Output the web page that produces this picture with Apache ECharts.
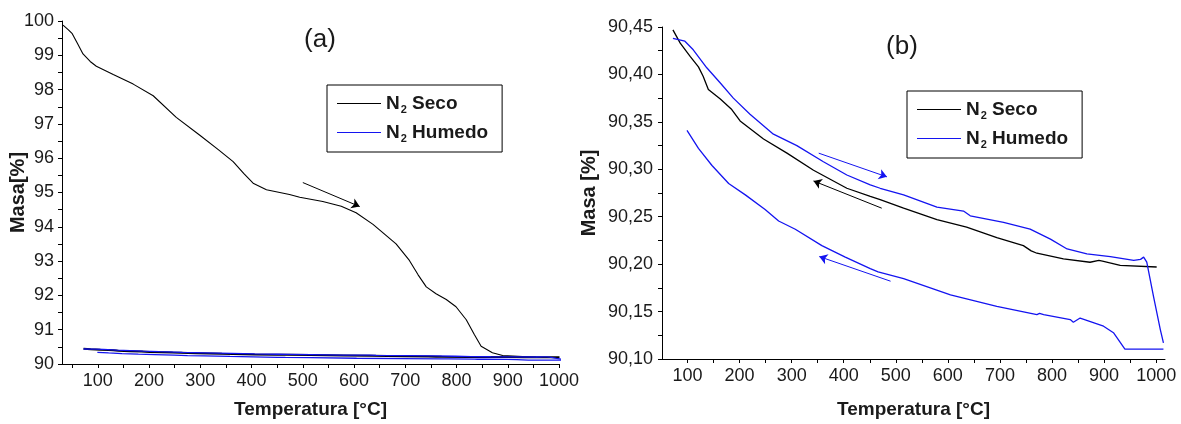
<!DOCTYPE html>
<html><head><meta charset="utf-8">
<script src="https://cdn.jsdelivr.net/npm/echarts@6/dist/echarts.min.js"></script>
<style>html,body{margin:0;padding:0;background:#fff}#c{width:1181px;height:424px}</style>
</head><body><div id="c"></div>
<script>
// ---- data ----
const xTickLabels = [100,200,300,400,500,600,700,800,900,1000];
const xMinorTicks = [50,100,150,200,250,300,350,400,450,500,550,600,650,700,750,800,850,900,950,1000];
const seriesNames = ['N2 Seco','N2 Humedo'];
// (a) N2 Seco heating curve [T, masa]
const secoCalentamiento = [[32,99.88],[42,99.75],[50,99.63],[60,99.35],[71,99.04],[85,98.82],[97,98.68],[130,98.44],[169,98.16],[208,97.82],[253,97.19],[299,96.67],[335,96.25],[364,95.9],[385,95.55],[403,95.27],[429,95.08],[474,94.94],[494,94.86],[539,94.74],[575,94.6],[604,94.41],[637,94.07],[682,93.5],[708,93.02],[725,92.6],[741,92.25],[760,92.05],[780,91.88],[799,91.67],[819,91.29],[835,90.85],[848,90.52],[870,90.33],[890,90.25],[929,90.22],[955,90.2]];
// N2 Seco cooling curve (b)
const secoEnfriamiento = [[72,90.447],[86,90.433],[105,90.419],[121,90.408],[130,90.398],[140,90.384],[163,90.374],[185,90.363],[201,90.351],[246,90.332],[291,90.317],[342,90.299],[406,90.280],[451,90.2715],[470,90.268],[515,90.259],[579,90.247],[636,90.239],[694,90.228],[745,90.2195],[760,90.214],[771,90.2115],[822,90.2056],[873,90.202],[890,90.204],[899,90.203],[931,90.1988],[1001,90.197]];
// N2 Humedo heating curve
const humedoCalentamiento = [[72,90.438],[95,90.435],[111,90.426],[137,90.407],[163,90.391],[188,90.375],[220,90.358],[265,90.337],[310,90.325],[361,90.308],[406,90.294],[451,90.2836],[470,90.280],[515,90.273],[579,90.260],[630,90.256],[643,90.251],[707,90.244],[758,90.237],[797,90.2264],[829,90.216],[867,90.2108],[912,90.208],[957,90.204],[970,90.205],[976,90.2074],[982,90.2022],[995,90.1658],[1008,90.131],[1014,90.117]];
// N2 Humedo cooling curve
const humedoEnfriamiento = [[99,90.341],[121,90.322],[147,90.304],[179,90.285],[211,90.273],[249,90.2576],[275,90.2455],[307,90.2368],[358,90.2195],[403,90.2074],[451,90.1952],[466,90.1918],[515,90.1848],[605,90.1676],[694,90.1554],[771,90.1468],[776,90.148],[784,90.1468],[835,90.1416],[841,90.1388],[854,90.1432],[899,90.1346],[918,90.1277],[940,90.1104],[1014,90.1104]];
// direction arrows [start, end]
const flechaA = [[500,95.29],[611,94.59]];
const flechaSecoB = [[473,90.259],[342,90.2877]];
const flechaHumCalB = [[352,90.317],[483,90.292]];
const flechaHumEnfB = [[490,90.182],[353,90.208]];

const BLACK = '#000000', BLUE = '#1414f0', TXT = '#1a1a1a';
const FONT = 'Liberation Sans, Arial, sans-serif';

function arrow(pts, color){
  return {silent:true, symbol:['none','arrow'], symbolSize:8, animation:false,
    lineStyle:{color:color, width:1, type:'solid'}, itemStyle:{color:color}, label:{show:false}, emphasis:{disabled:true},
    data:[[{coord:pts[0]},{coord:pts[1]}]]};
}
function line(name, data, color, xi, w, mark){
  const s = {type:'line', name:name, data:data, xAxisIndex:xi, yAxisIndex:xi, symbol:'none',
    lineStyle:{color:color, width:w}, itemStyle:{color:color}, animation:false, z:3};
  if (mark) s.markLine = mark;
  return s;
}
function xAxis(gi, min, max){
  return {type:'value', gridIndex:gi, min:min, max:max,
    name:'Temperatura [°C]', nameLocation:'middle', nameGap: gi===0?36:41, nameMoveOverlap:false,
    nameTextStyle:{fontFamily:FONT, fontWeight:'bold', fontSize:19, color:TXT},
    axisLine:{lineStyle:{color:BLACK, width:1}},
    axisTick:{show:true, inside:false, length:4, customValues:xMinorTicks, lineStyle:{color:BLACK}},
    axisLabel:{customValues:xTickLabels, fontFamily:FONT, fontSize:18, color:TXT, margin:8, formatter: v => String(v)},
    splitLine:{show:false}};
}
const fmtComma = v => v.toFixed(2).replace('.',',');
const opt = {
  backgroundColor:'#fff',
  grid:[{left:62, top:21, width:497, height:347},{left:662, top:27, width:503, height:336}],
  xAxis:[xAxis(0,30,1000), xAxis(1,51,1017)],
  yAxis:[
    {type:'value', gridIndex:0, min:90, max:100, interval:1,
     name:'Masa[%]', nameLocation:'middle', nameGap:34, nameMoveOverlap:false,
     nameTextStyle:{fontFamily:FONT, fontWeight:'bold', fontSize:20, color:TXT},
     axisLine:{show:true, lineStyle:{color:BLACK}},
     axisTick:{show:true, length:4, lineStyle:{color:BLACK}},
     minorTick:{show:true, splitNumber:2, length:4, lineStyle:{color:BLACK}},
     axisLabel:{fontFamily:FONT, fontSize:18, color:TXT, margin:8},
     splitLine:{show:false}, minorSplitLine:{show:false}},
    {type:'value', gridIndex:1, min:90.10, max:90.45, interval:0.05,
     name:'Masa [%]', nameLocation:'middle', nameGap:63, nameMoveOverlap:false,
     nameTextStyle:{fontFamily:FONT, fontWeight:'bold', fontSize:20, color:TXT},
     axisLine:{show:true, lineStyle:{color:BLACK}},
     axisTick:{show:true, length:4, lineStyle:{color:BLACK}},
     minorTick:{show:true, splitNumber:2, length:4, lineStyle:{color:BLACK}},
     axisLabel:{fontFamily:FONT, fontSize:18, color:TXT, margin:9, formatter:fmtComma},
     splitLine:{show:false}, minorSplitLine:{show:false}}
  ],
  legend:[0,1].map(i => ({
    data:[{name:'N2 Seco', itemStyle:{color:BLACK, borderWidth:0}},
          {name:'N2 Humedo', itemStyle:{color:BLUE, borderWidth:0}}],
    orient:'vertical', left: i===0?327:907, top: i===0?85:91,
    icon:'rect', itemWidth:44, itemHeight:1.2, itemGap:6,
    padding:[7,14,8,10], borderColor:BLACK, borderWidth:1, backgroundColor:'#fff',
    selectedMode:false,
    formatter: n => n==='N2 Seco' ? '{b|N}{s|2}{b| Seco}' : '{b|N}{s|2}{b| Humedo}',
    textStyle:{rich:{
      b:{fontFamily:FONT, fontWeight:'bold', fontSize:19, color:TXT, lineHeight:25},
      s:{fontFamily:FONT, fontWeight:'bold', fontSize:11, color:TXT, lineHeight:25, padding:[12,0,0,1]}
    }}
  })),
  graphic:[
    {type:'text', x:320, y:40, style:{text:'(a)', font:'26px '+FONT, fill:TXT, align:'center', verticalAlign:'middle'}},
    {type:'text', x:902, y:47, style:{text:'(b)', font:'26px '+FONT, fill:TXT, align:'center', verticalAlign:'middle'}}
  ],
  series:[
    line('N2 Seco', secoCalentamiento, BLACK, 0, 1.1, arrow(flechaA, BLACK)),
    line('N2 Seco', secoEnfriamiento, BLACK, 0, 2),
    line('N2 Humedo', humedoCalentamiento, BLUE, 0, 1.3),
    line('N2 Humedo', humedoEnfriamiento, BLUE, 0, 1.3),
    line('N2 Seco', secoEnfriamiento, BLACK, 1, 1.3, arrow(flechaSecoB, BLACK)),
    line('N2 Humedo', humedoCalentamiento, BLUE, 1, 1.3, arrow(flechaHumCalB, BLUE)),
    line('N2 Humedo', humedoEnfriamiento, BLUE, 1, 1.3, arrow(flechaHumEnfB, BLUE))
  ]
};
const chart = echarts.init(document.getElementById('c'), null, {renderer:'canvas'});
chart.setOption(opt);
</script></body></html>
